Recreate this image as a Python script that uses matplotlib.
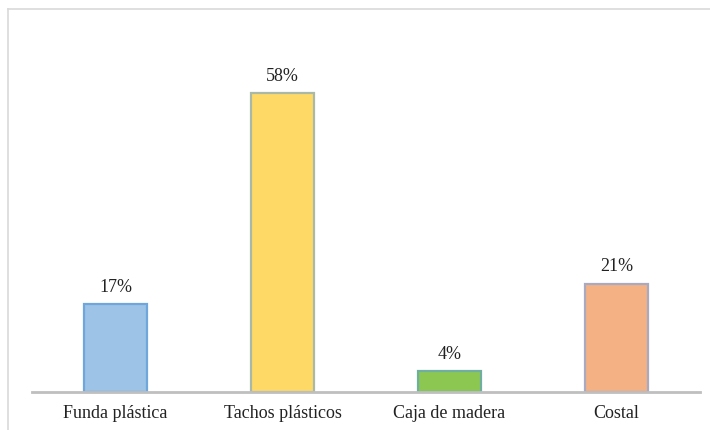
import matplotlib

matplotlib.use("Agg")
import matplotlib.pyplot as plt
from matplotlib.lines import Line2D

categories = ["Funda plástica", "Tachos plásticos", "Caja de madera", "Costal"]
percentages = [17, 58, 4, 21]
fill_colors = ["#9DC3E6", "#FFD966", "#8CC752", "#F4B183"]
edge_colors = ["#6FA7DC", "#A9B9A6", "#6FAF9F", "#A9A9C0"]

plt.rcParams["font.family"] = ["Liberation Serif", "DejaVu Serif"]

W, H = 710, 430
fig = plt.figure(figsize=(W / 100, H / 100), dpi=100)

# light frame lines along the top and left of the chart area
top = (H - 9) / H
left = 8 / W
fig.lines.append(Line2D([left, 1.0], [top, top], transform=fig.transFigure,
                        color="#D9D9D9", linewidth=1.2))
fig.lines.append(Line2D([left, left], [0.0, top], transform=fig.transFigure,
                        color="#D9D9D9", linewidth=1.2))

ax = fig.add_axes([32 / W, (H - 392) / H, 668 / W, 362 / H])
ax.set_xlim(-0.5, 3.5)
ax.set_ylim(0, 70.2)

x = range(len(categories))
ax.bar(x, percentages, width=0.38, color=fill_colors, edgecolor=edge_colors, linewidth=1.6, zorder=2)

for xi, v in zip(x, percentages):
    ax.annotate(f"{v}%", (xi, v), xytext=(0, 6), textcoords="offset points",
                ha="center", va="bottom", fontsize=13, color="#222222")

for side in ("top", "right", "left"):
    ax.spines[side].set_visible(False)
ax.spines["bottom"].set_color("#BFBFBF")
ax.spines["bottom"].set_linewidth(2)
ax.set_yticks([])
ax.set_xticks(list(x))
ax.set_xticklabels(categories, fontsize=13, color="#222222")
ax.tick_params(axis="x", length=0, pad=9)
ax.patch.set_alpha(0)

fig.savefig("out.png", dpi=100)
